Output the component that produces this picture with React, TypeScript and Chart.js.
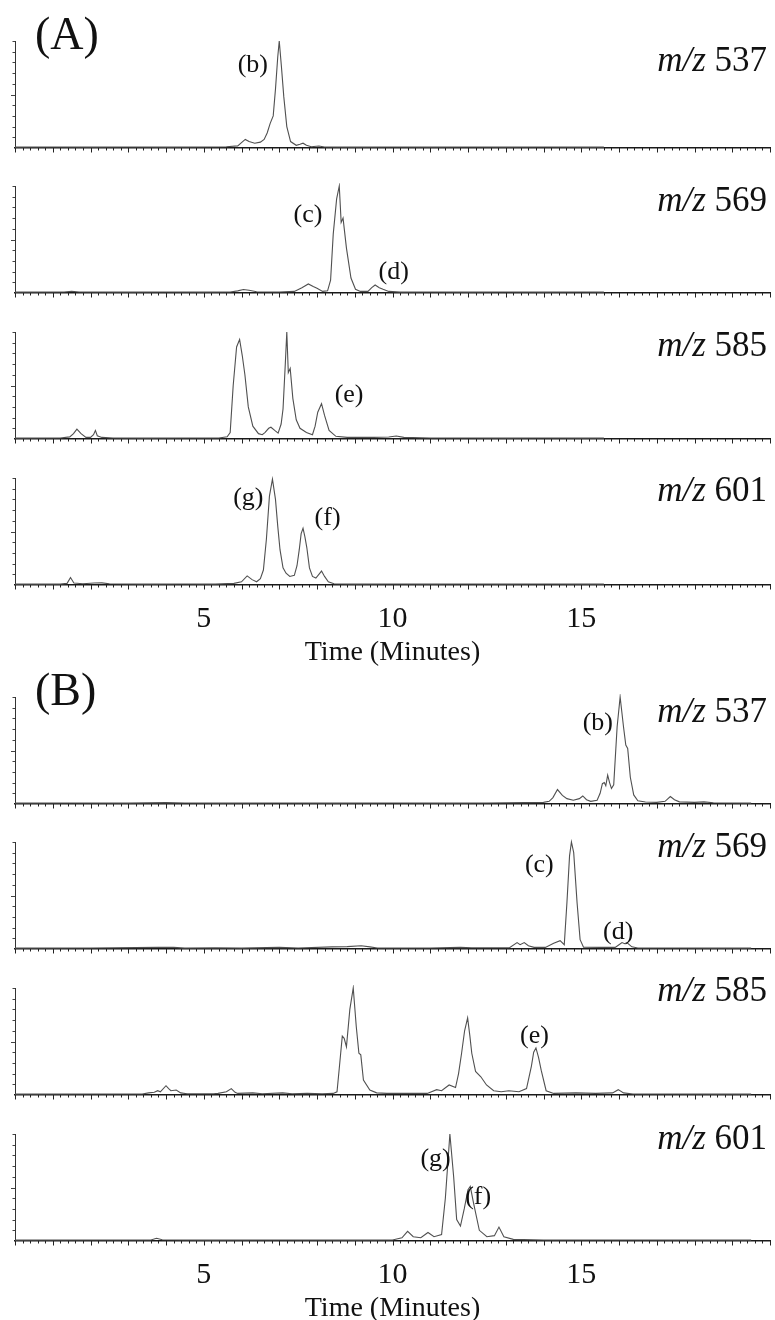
import React, { useEffect, useRef } from "react";
import { Chart, registerables } from "chart.js";

Chart.register(...registerables);

// ---------- data ----------
const X_MIN = 0;
const X_MAX = 20;
const X_TICK_LABELS = [5, 10, 15];
const AXIS_TITLE = "Time (Minutes)";
const MZ_VALUES = ["537", "569", "585", "601"];
const PANEL_LETTERS = ["(A)", "(B)"];

// [time (min), relative intensity (%)]
const A_537: [number, number][] = [
  [0, 0.8], [1.0, 1.0], [2.0, 0.8], [3.0, 1.0], [4.0, 0.8], [5.0, 1.0], [5.6, 1.2], [5.9, 2.0],
  [6.0, 5], [6.1, 8], [6.2, 6], [6.35, 4.5], [6.5, 5.5], [6.6, 8], [6.68, 14], [6.76, 23],
  [6.84, 30], [6.9, 55], [6.96, 85], [7.0, 100], [7.06, 75], [7.12, 48], [7.2, 20], [7.3, 6],
  [7.45, 2.5], [7.55, 3.5], [7.63, 4.5], [7.72, 2.5], [7.85, 1.2], [8.05, 1.8], [8.2, 1.0],
  [9, 0.8], [10, 1.0], [11, 0.8], [12, 1.0], [13, 0.8], [14, 1.0], [15, 0.8], [15.6, 0.8],
];
const A_569: [number, number][] = [
  [0, 0.8], [1.3, 1.0], [1.5, 1.6], [1.7, 1.0], [3, 0.8], [4, 1.0], [5, 0.8], [5.7, 1.0],
  [5.9, 2], [6.05, 3.3], [6.2, 2.5], [6.4, 1.2], [7, 1.0], [7.4, 1.5], [7.6, 5], [7.77, 8.5],
  [7.9, 6], [8.0, 4.5], [8.15, 1.5], [8.28, 2], [8.36, 12], [8.43, 55], [8.52, 88], [8.59, 100],
  [8.64, 66], [8.69, 70], [8.78, 42], [8.9, 14], [9.02, 3.5], [9.15, 1.5], [9.35, 1.5],
  [9.45, 5], [9.54, 7.5], [9.65, 5], [9.75, 3.5], [9.9, 1.5], [10.2, 0.8], [11, 1.0],
  [12, 0.8], [13, 1.0], [14, 0.8], [15, 1.0], [15.6, 0.8],
];
const A_585: [number, number][] = [
  [0, 0.8], [1.2, 1.0], [1.45, 2], [1.55, 5], [1.64, 9.3], [1.75, 5], [1.88, 1.5], [2.0, 1.5],
  [2.08, 4], [2.13, 8], [2.18, 3], [2.3, 1.5], [2.6, 1.0], [3.5, 0.8], [4.5, 1.0], [5.4, 1.0],
  [5.62, 2], [5.7, 6], [5.78, 50], [5.87, 86], [5.95, 93], [6.02, 78], [6.09, 60], [6.18, 30],
  [6.3, 12], [6.45, 5], [6.55, 4], [6.62, 6], [6.72, 10], [6.78, 11], [6.88, 8], [6.97, 5.5],
  [7.05, 14], [7.1, 28], [7.16, 70], [7.2, 100], [7.24, 62], [7.29, 66], [7.36, 38],
  [7.45, 18], [7.55, 10], [7.72, 6], [7.88, 4], [7.95, 12], [8.02, 25], [8.12, 33], [8.2, 22],
  [8.32, 8], [8.5, 2.5], [8.8, 1.5], [9.5, 1.5], [9.9, 1.8], [10.1, 2.8], [10.3, 1.5],
  [11, 1.0], [12, 1.0], [13, 0.8], [14, 1.0], [15, 0.8], [15.6, 0.8],
];
const A_601: [number, number][] = [
  [0, 0.8], [1.2, 0.8], [1.38, 1.5], [1.47, 7], [1.56, 1.8], [1.8, 1.2], [2.1, 1.8], [2.3, 2],
  [2.5, 1.2], [3.5, 0.8], [4.5, 1.0], [5.3, 0.8], [5.8, 1.5], [6.0, 3], [6.15, 8.5], [6.28, 5],
  [6.4, 3], [6.5, 6], [6.58, 14], [6.66, 43], [6.74, 83], [6.82, 99], [6.9, 80], [6.96, 55],
  [7.02, 33], [7.1, 16], [7.18, 11], [7.28, 8], [7.4, 9], [7.47, 18], [7.53, 33], [7.58, 48],
  [7.63, 53], [7.68, 45], [7.73, 35], [7.8, 16], [7.88, 8], [7.97, 6.5], [8.05, 10],
  [8.12, 13], [8.2, 8], [8.3, 3], [8.45, 1.2], [9, 0.8], [10, 1.0], [11, 0.8], [12, 1.0],
  [13, 0.8], [14, 1.0], [15, 0.8], [15.6, 0.8],
];
const B_537: [number, number][] = [
  [0, 0.8], [1.5, 1.0], [3, 0.8], [4, 1.3], [4.5, 1.0], [5.5, 0.8], [7, 1.0], [8.5, 0.8],
  [10, 1.0], [11.5, 0.8], [12.5, 1.0], [13.5, 1.3], [14.0, 1.5], [14.15, 2.5], [14.25, 6],
  [14.37, 13.5], [14.5, 8], [14.62, 5], [14.79, 3.5], [14.95, 5], [15.04, 7.5], [15.14, 4],
  [15.25, 2.5], [15.42, 3.5], [15.5, 10], [15.56, 19], [15.61, 20], [15.65, 17], [15.7, 27],
  [15.75, 20], [15.8, 14.5], [15.86, 18], [15.95, 72], [16.03, 100], [16.12, 72], [16.18, 55],
  [16.23, 52], [16.3, 25], [16.39, 8.5], [16.5, 3], [16.7, 1.8], [17.0, 1.5], [17.22, 2.5],
  [17.36, 7], [17.47, 4], [17.6, 2], [18.0, 1.5], [18.25, 2], [18.5, 1.2], [19, 1.0], [19.5, 0.8],
];
const B_569: [number, number][] = [
  [0, 0.8], [2, 1.0], [3.8, 1.5], [4.2, 1.5], [4.5, 0.8], [5.3, 1.2], [6, 0.8], [7, 1.5],
  [7.5, 1.0], [8.4, 2], [8.8, 2.2], [9.17, 3], [9.4, 2], [9.6, 1.0], [11, 1.0], [11.8, 1.5],
  [12.1, 1.2], [13.1, 1.2], [13.3, 6], [13.38, 4], [13.49, 6], [13.6, 3], [13.75, 1.5],
  [14.05, 1.5], [14.27, 5.3], [14.44, 7.8], [14.55, 4], [14.62, 43], [14.69, 87], [14.74, 100],
  [14.8, 90], [14.89, 43], [14.97, 8.7], [15.06, 1.6], [15.5, 1.5], [15.9, 1.5], [16.0, 4],
  [16.08, 6], [16.15, 5], [16.21, 6], [16.34, 2], [16.5, 1.0], [17.5, 1.0], [18.5, 0.8], [19.5, 0.8],
];
const B_585: [number, number][] = [
  [0, 0.8], [2, 1.0], [3.37, 1.0], [3.54, 2], [3.69, 2.5], [3.78, 4], [3.85, 3], [4.0, 8.7],
  [4.07, 6], [4.13, 4], [4.27, 4.7], [4.39, 2], [4.56, 1.2], [5.26, 1.2], [5.38, 1.5], [5.6, 3],
  [5.73, 6], [5.83, 2.5], [5.9, 1.5], [6.3, 2], [6.55, 1.2], [7.09, 2], [7.34, 1.2], [7.74, 1.5],
  [8.14, 1.2], [8.43, 1.5], [8.53, 3], [8.59, 25], [8.67, 55], [8.72, 53], [8.78, 45],
  [8.87, 80], [8.96, 100], [9.04, 64], [9.11, 39], [9.16, 37.5], [9.23, 14], [9.4, 4.7],
  [9.58, 2], [9.85, 1.5], [10.42, 1.5], [10.92, 1.5], [11.17, 5], [11.3, 4], [11.5, 9.4],
  [11.67, 7], [11.75, 20], [11.83, 39], [11.91, 60], [11.99, 72], [12.05, 55], [12.1, 39],
  [12.2, 22], [12.34, 17], [12.49, 9.4], [12.68, 4], [12.88, 3], [13.08, 4], [13.35, 3],
  [13.55, 6], [13.68, 27], [13.74, 40], [13.8, 44], [13.87, 35], [13.94, 23], [14.07, 4],
  [14.27, 1.5], [14.86, 2], [15.38, 1.5], [15.83, 2], [15.98, 5], [16.12, 2], [16.37, 1.0],
  [17.5, 1.0], [18.5, 0.8], [19.5, 0.8],
];
const B_601: [number, number][] = [
  [0, 0.8], [2, 1.0], [3.6, 1.0], [3.75, 2.5], [3.9, 1.2], [5, 0.8], [7, 1.0], [9, 0.8],
  [10, 1.0], [10.25, 3], [10.4, 9], [10.55, 4], [10.75, 3], [10.94, 8], [11.1, 4], [11.3, 6],
  [11.4, 40], [11.52, 100], [11.62, 60], [11.7, 20], [11.8, 14], [11.9, 30], [12.0, 48],
  [12.06, 51], [12.15, 35], [12.3, 10], [12.5, 4], [12.7, 5], [12.82, 13], [12.95, 4],
  [13.2, 1.5], [14, 1.0], [15, 1.0], [16.5, 1.0], [18, 0.8], [19.5, 0.8],
];

// peak annotations: [label, time, intensity]
const A_PEAKS: [string, number, number][][] = [
  [["(b)", 6.3, 79]],
  [["(c)", 7.76, 75], ["(d)", 10.03, 21]],
  [["(e)", 8.85, 43]],
  [["(g)", 6.18, 83], ["(f)", 8.28, 64]],
];
const B_PEAKS: [string, number, number][][] = [
  [["(b)", 15.44, 77]],
  [["(c)", 13.89, 80], ["(d)", 15.98, 18]],
  [["(e)", 13.76, 57]],
  [["(g)", 11.14, 78], ["(f)", 12.27, 43]],
];

// ---------- layout ----------
const W = 775;
const PLOT_LEFT = 15;
const PLOT_RIGHT_PAD = 5;
const PLOT_H = 107;
const PAD_TOP = 41;
const SMALL_BOTTOM = 10;
const BIG_BOTTOM = 84;
const SERIF = '"Liberation Serif", "Times New Roman", serif';
const TRACE_COLOR = "#505050";
const INK = "#111";

type Panel = {
  top: number;
  data: [number, number][];
  mz: string;
  mzOffset: number;
  peaks: [string, number, number][];
  bottom: boolean;
  letter?: string;
};

const A_TOPS = [41, 186, 332, 478];
const B_TOPS = [697, 842, 988, 1134];
const A_MZ_OFF = [21, 16, 15, 14];
const B_MZ_OFF = [16, 6, 4, 6];
const A_SERIES = [A_537, A_569, A_585, A_601];
const B_SERIES = [B_537, B_569, B_585, B_601];

const PANELS: Panel[] = [
  ...A_TOPS.map((top, i) => ({
    top, data: A_SERIES[i], mz: MZ_VALUES[i], mzOffset: A_MZ_OFF[i], peaks: A_PEAKS[i],
    bottom: i === 3, letter: i === 0 ? PANEL_LETTERS[0] : undefined,
  })),
  ...B_TOPS.map((top, i) => ({
    top, data: B_SERIES[i], mz: MZ_VALUES[i], mzOffset: B_MZ_OFF[i], peaks: B_PEAKS[i],
    bottom: i === 3, letter: i === 0 ? PANEL_LETTERS[1] : undefined,
  })),
];

const decor = {
  id: "decor",
  afterDraw(chart: any, _args: any, opts: any) {
    const p: Panel = opts.panel;
    const { ctx, chartArea: a, scales } = chart;
    const x = scales.x;
    const y = scales.y;
    ctx.save();
    ctx.strokeStyle = "#222";
    ctx.lineWidth = 1;
    // x ticks (minor every 0.2 min, major every 1 min)
    for (let i = 0; i <= 100; i++) {
      const t = i * 0.2;
      const px = Math.round(x.getPixelForValue(t)) + 0.5;
      const len = i % 5 === 0 ? 4.5 : 2.5;
      ctx.beginPath();
      ctx.moveTo(px, a.bottom);
      ctx.lineTo(px, a.bottom + len);
      ctx.stroke();
    }
    // y ticks
    ctx.strokeStyle = "#444";
    for (let v = 10; v <= 100; v += 10) {
      const py = Math.round(y.getPixelForValue(v)) + 0.5;
      const len = v === 50 ? 4 : 2.5;
      ctx.beginPath();
      ctx.moveTo(a.left, py);
      ctx.lineTo(a.left - len, py);
      ctx.stroke();
    }
    ctx.fillStyle = INK;
    // peak labels
    ctx.font = `26px ${SERIF}`;
    ctx.textAlign = "center";
    ctx.textBaseline = "middle";
    for (const [txt, t, v] of p.peaks) {
      ctx.fillText(txt, x.getPixelForValue(t), y.getPixelForValue(v) + 2);
    }
    // m/z label
    const my = a.top + p.mzOffset;
    ctx.font = `italic 35px ${SERIF}`;
    const w1 = ctx.measureText("m/z").width;
    ctx.font = `35px ${SERIF}`;
    const num = " " + p.mz;
    const w2 = ctx.measureText(num).width;
    const rx = a.right - 3;
    ctx.textAlign = "left";
    ctx.font = `italic 35px ${SERIF}`;
    ctx.fillText("m/z", rx - w1 - w2, my);
    ctx.font = `35px ${SERIF}`;
    ctx.fillText(num, rx - w2, my);
    // panel letter
    if (p.letter) {
      ctx.font = `46px ${SERIF}`;
      ctx.textAlign = "left";
      ctx.textBaseline = "alphabetic";
      ctx.fillText(p.letter, 35, a.top + 8);
    }
    ctx.restore();
  },
};

function makeChart(canvas: HTMLCanvasElement, p: Panel) {
  const bottomH = p.bottom ? BIG_BOTTOM : SMALL_BOTTOM;
  return new Chart(canvas, {
    type: "line",
    data: {
      datasets: [
        {
          data: p.data as any,
          borderColor: TRACE_COLOR,
          borderWidth: 1.1,
          pointRadius: 0,
          tension: 0,
          fill: false,
          clip: 3 as any,
        },
      ],
    },
    options: {
      animation: false,
      responsive: false,
      devicePixelRatio: 1,
      events: [],
      layout: { padding: { top: PAD_TOP, right: PLOT_RIGHT_PAD, left: 0, bottom: 0 } },
      plugins: {
        legend: { display: false },
        tooltip: { enabled: false },
        decor: { panel: p },
      } as any,
      scales: {
        x: {
          type: "linear",
          min: X_MIN,
          max: X_MAX,
          grid: { display: false, drawTicks: false },
          border: { display: true, color: "#1a1a1a", width: 1.5 },
          ticks: {
            display: p.bottom,
            stepSize: 5,
            autoSkip: false,
            maxRotation: 0,
            minRotation: 0,
            padding: 16,
            color: INK,
            font: { family: SERIF, size: 30 },
            callback: (v: any) => (X_TICK_LABELS.includes(Number(v)) ? String(v) : ""),
          },
          title: {
            display: p.bottom,
            text: AXIS_TITLE,
            color: INK,
            font: { family: SERIF, size: 28 },
            padding: { top: 0, bottom: 0 },
          },
          afterFit: (s: any) => {
            s.height = bottomH;
            s.paddingLeft = 0;
            s.paddingRight = 0;
          },
        },
        y: {
          min: 0,
          max: 100,
          grid: { display: false, drawTicks: false },
          border: { display: true, color: "#333", width: 1 },
          ticks: { display: false },
          afterFit: (s: any) => {
            s.width = PLOT_LEFT;
            s.paddingTop = 0;
            s.paddingBottom = 0;
          },
        },
      },
    },
    plugins: [decor as any],
  });
}

export default function App() {
  const refs = useRef<(HTMLCanvasElement | null)[]>([]);
  useEffect(() => {
    const charts = PANELS.map((p, i) => makeChart(refs.current[i] as HTMLCanvasElement, p));
    return () => charts.forEach((c) => c.destroy());
  }, []);
  return (
    <div
      style={{
        position: "absolute",
        left: 0,
        top: 0,
        width: W,
        height: 1320,
        overflow: "hidden",
        background: "#fff",
      }}
    >
      {PANELS.map((p, i) => {
        const h = PAD_TOP + PLOT_H + (p.bottom ? BIG_BOTTOM : SMALL_BOTTOM);
        return (
          <canvas
            key={i}
            ref={(el) => {
              refs.current[i] = el;
            }}
            width={W}
            height={h}
            style={{ position: "absolute", left: 0, top: p.top - PAD_TOP, width: W, height: h }}
          />
        );
      })}
    </div>
  );
}
